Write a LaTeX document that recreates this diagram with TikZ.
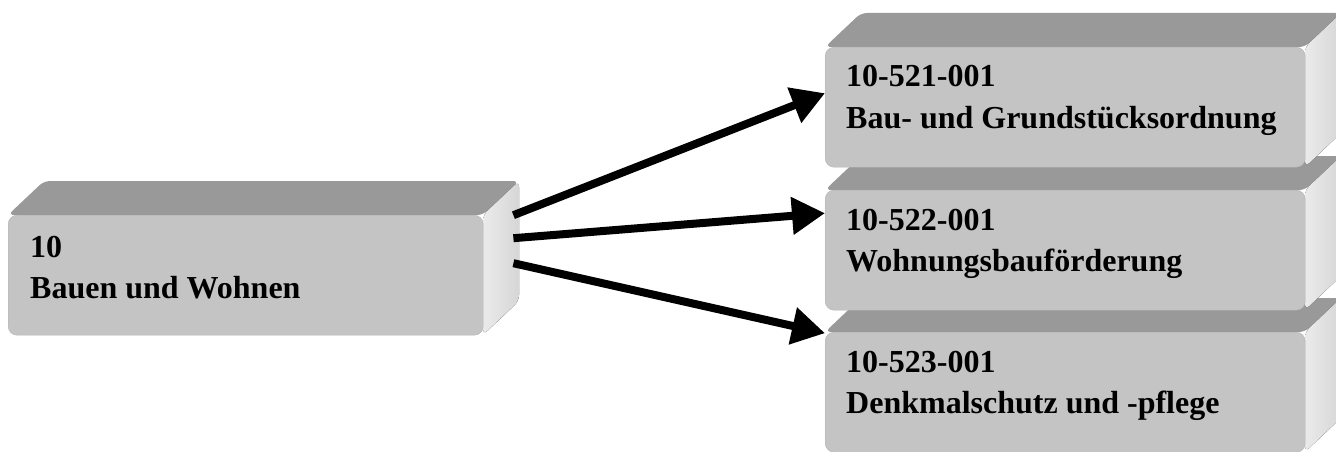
\documentclass[tikz,border=0pt]{standalone}
\usepackage{fontspec}
\setmainfont{Liberation Serif}
\usetikzlibrary{arrows.meta}

\begin{document}
\begin{tikzpicture}[x=1pt, y=-1pt,
	front/.style={fill=black!23, draw=black!30, rounded corners=9pt, minimum width=480pt, minimum height=120pt, inner sep=0pt, anchor=north west},
	topface/.style={fill=black!40, rounded corners=6pt},
	sideface/.style={left color=black!8, right color=black!16, rounded corners=6pt},
	boxtext/.style={anchor=base west, align=left, inner sep=0pt, font=\fontsize{32}{41}\selectfont\bfseries},
	link/.style={line width=8pt, -{Triangle[length=33pt, width=36pt]}}]
	\useasboundingbox (0,0) rectangle (1336,452);

	\begin{scope}[shift={(8,215)}]
	\fill[topface] (0,0) -- (36,-34) -- (511,-34) -- (475,0) -- cycle;
	\fill[sideface] (475,0) -- (511,-34) -- (511,86) -- (475,120) -- cycle;
	\node[front, minimum width=475pt] (bauen) at (0,0) {};
	\node[boxtext] (bauentext) at (22,83) {10\\Bauen und Wohnen};
	\end{scope}

	\begin{scope}[shift={(825,332)}]
	\fill[topface] (0,0) -- (36,-34) -- (516,-34) -- (480,0) -- cycle;
	\fill[sideface] (480,0) -- (516,-34) -- (516,86) -- (480,120) -- cycle;
	\node[front] (denkmal) at (0,0) {};
	\node[boxtext] (denkmaltext) at (21,81) {10-523-001\\Denkmalschutz und -pflege};
	\end{scope}

	\begin{scope}[shift={(825,190)}]
	\fill[topface] (0,0) -- (36,-34) -- (516,-34) -- (480,0) -- cycle;
	\fill[sideface] (480,0) -- (516,-34) -- (516,86) -- (480,120) -- cycle;
	\node[front] (foerderung) at (0,0) {};
	\node[boxtext] (foerderungtext) at (21,81) {10-522-001\\Wohnungsbauförderung};
	\end{scope}

	\begin{scope}[shift={(825,47)}]
	\fill[topface] (0,0) -- (36,-34) -- (516,-34) -- (480,0) -- cycle;
	\fill[sideface] (480,0) -- (516,-34) -- (516,86) -- (480,120) -- cycle;
	\node[front] (ordnung) at (0,0) {};
	\node[boxtext] (ordnungtext) at (21,81) {10-521-001\\Bau- und Grundstücksordnung};
	\end{scope}

	\draw[link] ([xshift=30pt, yshift=60pt]bauen.east) -- ([yshift=14pt]ordnung.west);
	\draw[link] ([xshift=30pt, yshift=37pt]bauen.east) -- ([yshift=37pt]foerderung.west);
	\draw[link] ([xshift=30pt, yshift=12pt]bauen.east) -- ([yshift=59pt]denkmal.west);
\end{tikzpicture}
\end{document}
